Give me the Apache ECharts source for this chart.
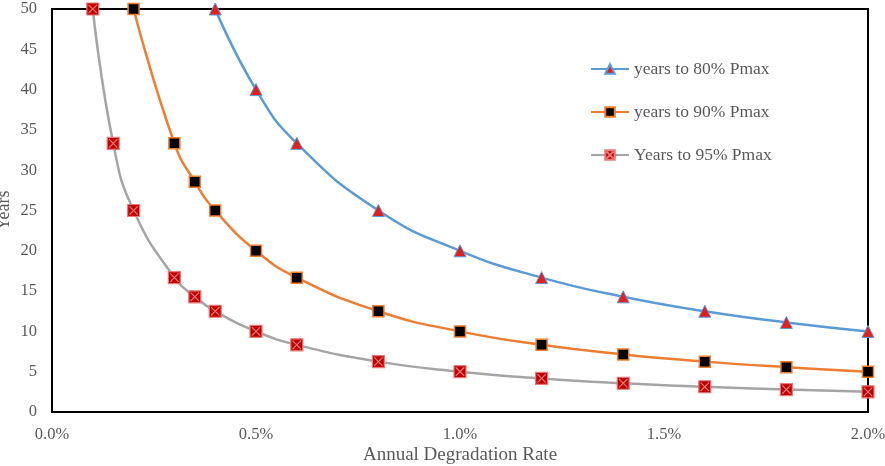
<!DOCTYPE html>
<html><head><meta charset="utf-8">
<script src="https://cdn.jsdelivr.net/npm/echarts@6/dist/echarts.min.js"></script>
<style>html,body{margin:0;padding:0;background:#fff}#c{width:885px;height:466px}</style>
</head><body><div id="c"></div>
<script>
const x80 = [0.4, 0.5, 0.6, 0.8, 1.0, 1.2, 1.4, 1.6, 1.8, 2.0];
const y80 = [50, 40, 33.33, 25, 20, 16.67, 14.29, 12.5, 11.11, 10];
const x90 = [0.2, 0.3, 0.35, 0.4, 0.5, 0.6, 0.8, 1.0, 1.2, 1.4, 1.6, 1.8, 2.0];
const y90 = [50, 33.33, 28.57, 25, 20, 16.67, 12.5, 10, 8.33, 7.14, 6.25, 5.56, 5];
const x95 = [0.1, 0.15, 0.2, 0.3, 0.35, 0.4, 0.5, 0.6, 0.8, 1.0, 1.2, 1.4, 1.6, 1.8, 2.0];
const y95 = [50, 33.33, 25, 16.67, 14.29, 12.5, 10, 8.33, 6.25, 5, 4.17, 3.57, 3.13, 2.78, 2.5];
const names = ['years to 80% Pmax', 'years to 90% Pmax', 'Years to 95% Pmax'];
const xTicks = {min: 0, max: 2.0, interval: 0.5};
const yTicks = {min: 0, max: 50, interval: 5};

const font = 'Liberation Serif';
const txt = '#595959';
function pairs(xs, ys){ return xs.map((x,i)=>[x, ys[i]]); }
const chart = echarts.init(document.getElementById('c'));
chart.setOption({
  animation: false,
  textStyle: {fontFamily: font},
  grid: {left: 52, right: 17, top: 9, bottom: 54, show: true, borderColor: '#000', borderWidth: 2,
         containLabel: false, outerBoundsMode: 'none'},
  legend: {
    orient: 'vertical', left: 585, top: 55, itemGap: 25, itemWidth: 38, itemHeight: 12,
    textStyle: {fontFamily: font, fontSize: 17.5, color: txt},
    data: names
  },
  xAxis: {
    type: 'value', min: xTicks.min, max: xTicks.max, interval: xTicks.interval,
    name: 'Annual Degradation Rate', nameLocation: 'middle', nameGap: 34, nameMoveOverlap: false,
    nameTextStyle: {fontFamily: font, fontSize: 19, color: txt},
    axisLine: {show: true, lineStyle: {color: '#000', width: 2}},
    axisTick: {show: false}, splitLine: {show: false},
    axisLabel: {fontFamily: font, fontSize: 16.5, color: txt, margin: 14, formatter: v => v.toFixed(1) + '%'}
  },
  yAxis: {
    type: 'value', min: yTicks.min, max: yTicks.max, interval: yTicks.interval,
    name: 'Years', nameLocation: 'middle', nameGap: 39, nameRotate: 90, nameMoveOverlap: false,
    nameTextStyle: {fontFamily: font, fontSize: 18, color: txt},
    axisLine: {show: true, lineStyle: {color: '#000', width: 2}},
    axisTick: {show: false}, splitLine: {show: false},
    axisLabel: {fontFamily: font, fontSize: 16.5, color: txt, margin: 15}
  },
  series: [
    {name: names[0], type: 'line', smooth: 0.5, clip: false, data: pairs(x80, y80),
     lineStyle: {color: '#5B9BD5', width: 2.5}, symbol: 'triangle', symbolSize: 12,
     itemStyle: {color: '#E0201F', borderColor: '#5B9BD5', borderWidth: 1}},
    {name: names[1], type: 'line', smooth: 0.5, clip: false, data: pairs(x90, y90),
     lineStyle: {color: '#ED7D31', width: 2.5}, symbol: 'rect', symbolSize: 11,
     itemStyle: {color: '#000', borderColor: '#ED7D31', borderWidth: 1.5}},
    {name: names[2], type: 'line', smooth: 0.5, clip: false, data: pairs(x95, y95),
     lineStyle: {color: '#A5A5A5', width: 2.5},
     symbol: 'path://M0,0L10,0L10,10L0,10Z M1.5,1.5L8.5,8.5 M8.5,1.5L1.5,8.5', symbolSize: 12,
     itemStyle: {color: '#C00000', borderColor: '#E87A7A', borderWidth: 1.2}}
  ]
});
</script></body></html>
